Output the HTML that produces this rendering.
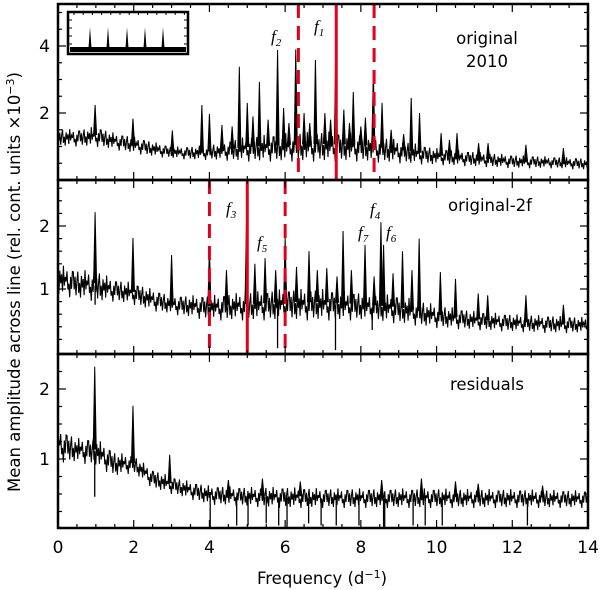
<!DOCTYPE html>
<html><head><meta charset="utf-8">
<style>
html,body{margin:0;padding:0;background:#fff;}
svg{display:block;font-family:"DejaVu Sans","Liberation Sans",sans-serif;}
.it{font-family:"Liberation Serif","DejaVu Serif",serif;font-style:italic;}
</style></head>
<body>
<svg id="chart" width="600" height="590" viewBox="0 0 600 590" xmlns="http://www.w3.org/2000/svg">
<defs>
<clipPath id="c0"><rect x="58" y="4" width="530" height="176"/></clipPath>
<clipPath id="c1"><rect x="58" y="180" width="530" height="174"/></clipPath>
<clipPath id="c2"><rect x="58" y="354" width="530" height="174"/></clipPath>
</defs>
<g id="marks"></g>
<g id="axes"></g>
<text transform="translate(20,282) rotate(-90)" text-anchor="middle" font-size="16.5">Mean amplitude across line (rel. cont. units ×10<tspan font-size="11" dy="-6">−3</tspan><tspan dy="6">)</tspan></text>
<text x="322" y="584" text-anchor="middle" font-size="16.5">Frequency (d<tspan font-size="11" dy="-6">−1</tspan><tspan dy="6">)</tspan></text>
<text x="487" y="44" text-anchor="middle" font-size="16.5">original</text>
<text x="487" y="67" text-anchor="middle" font-size="16.5">2010</text>
<text x="490" y="211" text-anchor="middle" font-size="16.5">original-2f</text>
<text x="487" y="390" text-anchor="middle" font-size="16.5">residuals</text>
<text class="it" x="271" y="42" font-size="17">f<tspan font-size="11" dy="4">2</tspan></text>
<text class="it" x="314" y="32" font-size="17">f<tspan font-size="11" dy="4">1</tspan></text>
<text class="it" x="226" y="214" font-size="17">f<tspan font-size="11" dy="4">3</tspan></text>
<text class="it" x="257" y="248" font-size="17">f<tspan font-size="11" dy="4">5</tspan></text>
<text class="it" x="370" y="215" font-size="17">f<tspan font-size="11" dy="4">4</tspan></text>
<text class="it" x="358" y="238" font-size="17">f<tspan font-size="11" dy="4">7</tspan></text>
<text class="it" x="386" y="238" font-size="17">f<tspan font-size="11" dy="4">6</tspan></text>
</svg>
<script>
// ---- data ----
const envFreq = [0,0.5,1,1.5,2,2.5,3,3.5,4,5,6,7,8,9,10,11,12,13,14];
const topHi = [1.55,1.5,1.6,1.4,1.3,1.15,1.0,1.0,1.05,1.3,1.4,1.45,1.4,1.2,0.95,0.85,0.75,0.7,0.65];
const topLo = [1.0,1.0,1.0,0.9,0.8,0.7,0.65,0.6,0.6,0.55,0.55,0.55,0.55,0.5,0.45,0.4,0.35,0.35,0.3];
const midHi = [1.4,1.3,1.3,1.15,1.1,1.0,0.9,0.9,0.9,0.95,1.0,1.0,0.95,0.9,0.75,0.65,0.6,0.58,0.55];
const midLo = [0.9,0.85,0.8,0.8,0.75,0.65,0.6,0.55,0.5,0.5,0.5,0.5,0.5,0.45,0.38,0.35,0.32,0.3,0.3];
const resHi = [1.45,1.3,1.3,1.1,1.05,0.85,0.75,0.68,0.62,0.6,0.6,0.58,0.58,0.58,0.58,0.57,0.57,0.56,0.55];
const resLo = [0.95,0.95,0.9,0.75,0.8,0.58,0.5,0.42,0.35,0.32,0.3,0.3,0.3,0.3,0.3,0.3,0.3,0.3,0.3];

const topPeakFreq = [0.98,1.98,3.02,3.8,4.0,4.33,4.6,4.79,5.0,5.15,5.32,5.55,5.8,5.96,6.1,6.28,6.5,6.65,6.8,7.05,7.2,7.34,7.55,7.7,7.8,8.0,8.12,8.33,8.56,8.8,9.13,9.33,9.55,10.12,10.34,10.54,11.11,11.36,12.36,13.35];
const topPeakAmp  = [2.24,1.83,1.48,2.24,1.97,1.64,1.6,3.38,2.3,1.9,2.93,1.8,3.88,2.15,1.7,3.9,2.0,1.7,3.58,2.0,1.8,4.18,2.1,1.7,2.63,1.6,1.86,3.28,2.3,1.5,1.37,2.45,2.0,1.4,1.2,1.4,1.1,1.1,1.05,0.95];

const midPeakFreq = [0.98,1.98,3.0,4.0,4.45,4.98,5.2,5.47,5.75,6.0,6.3,6.63,6.85,7.1,7.37,7.53,7.75,8.11,8.35,8.53,8.6,8.85,9.1,9.35,9.54,10.1,10.5,11.1,11.35,12.36,13.35];
const midPeakAmp  = [2.22,1.81,1.54,1.67,1.3,2.13,1.4,1.49,1.3,1.81,1.35,1.6,1.3,1.33,1.2,1.92,1.3,1.7,1.2,2.06,1.7,1.25,1.6,1.3,1.8,1.27,1.16,0.93,0.9,0.9,0.75];
const midDipFreq = [0.98,5.8,7.33,8.3];
const midDipAmp  = [0.75,0.06,0.03,0.35];

const resPeakFreq = [0.97,1.98,2.95,4.5,5.4,6.4,8.55,9.6,10.5,11.1,12.8];
const resPeakAmp  = [2.32,1.76,1.06,0.7,0.72,0.68,0.7,0.72,0.68,0.65,0.62];
const resDipFreq = [0.97,4.02,4.72,5.02,5.5,5.83,6.05,6.62,6.95,7.35,7.95,8.6,8.63,9.38,9.7,10.15,12.4];
const resDipAmp  = [0.46,0.03,0.05,0.05,0.08,0.05,0.03,0.08,0.05,0.05,0.05,0.03,0.03,0.05,0.05,0.05,0.05];

const topSolid = [7.35], topDashed = [6.35,8.35];
const midSolid = [5.0], midDashed = [4.0,6.0];
const xTicksMajor = [0,2,4,6,8,10,12,14];

// ---- scales ----
const X0=58, X1=588, FMAX=14;
const xs = f => X0 + f*(X1-X0)/FMAX;
const panels = [
  {name:'original', top:4, bot:180, y:v=>113-(v-2)*33.5, vmax:5.2, minor:0.5, major:[2,4], hi:topHi, lo:topLo, pf:topPeakFreq, pa:topPeakAmp, df:[], da:[], solid:topSolid, dashed:topDashed, clip:'c0'},
  {name:'original-2f', top:180, bot:354, y:v=>289-(v-1)*63, vmax:2.7, minor:0.2, major:[1,2], hi:midHi, lo:midLo, pf:midPeakFreq, pa:midPeakAmp, df:midDipFreq, da:midDipAmp, solid:midSolid, dashed:midDashed, clip:'c1'},
  {name:'residuals', top:354, bot:528, y:v=>459-(v-1)*70, vmax:2.45, minor:0.25, major:[1,2], hi:resHi, lo:resLo, pf:resPeakFreq, pa:resPeakAmp, df:resDipFreq, da:resDipAmp, solid:[], dashed:[], clip:'c2'}
];
// drawing texture (fraction of band), style only
const texture = [0.9,0.3,0.75,0.1,0.6,0.95,0.2,0.55,0.05,0.8,0.4,0.7,0.15,1.0,0.35,0.65,0.5,0.85,0.25,0.45,0.0,0.7,0.3,0.9];
const NS='http://www.w3.org/2000/svg';
function mk(tag, attrs, parent){const e=document.createElementNS(NS,tag);for(const k in attrs)e.setAttribute(k,attrs[k]);parent.appendChild(e);return e;}
function interp(arr,f){for(let i=0;i<envFreq.length-1;i++){if(f<=envFreq[i+1]){const t=(f-envFreq[i])/(envFreq[i+1]-envFreq[i]);return arr[i]+t*(arr[i+1]-arr[i]);}}return arr[arr.length-1];}
const marks=document.getElementById('marks'), axes=document.getElementById('axes');

panels.forEach((p,pi)=>{
  const g=mk('g',{'clip-path':'url(#'+p.clip+')'},marks);
  
  
  let pts=[]; let k=pi*7;
  for(let x=X0; x<=X1; x+=0.9){
    const f=(x-X0)*FMAX/(X1-X0);
    const hi=interp(p.hi,f), lo=interp(p.lo,f);
    const t=texture[k%texture.length]; k++;
    pts.push(x.toFixed(1)+','+p.y(lo+t*(hi-lo)).toFixed(1));
  }
  const env=mk('polyline',{points:pts.join(' '),fill:'none',stroke:'#000','stroke-width':'1.1'},g);
  
  
  p.pf.forEach((f,i)=>{
    const b=interp(p.hi,f)*0.6+interp(p.lo,f)*0.4, w=0.04;
    const tri=mk('polygon',{points:xs(f-w)+','+p.y(b)+' '+xs(f)+','+p.y(p.pa[i])+' '+xs(f+w)+','+p.y(b),fill:'#000',stroke:'#000','stroke-width':'1'},g);
    
    
  });
  p.df.forEach((f,i)=>{
    const b=(interp(p.lo,f)+interp(p.hi,f))/2;
    const ln=mk('line',{x1:xs(f),x2:xs(f),y1:p.y(b),y2:p.y(p.da[i]),stroke:'#000','stroke-width':'1.3'},g);
    
    
  });
  p.solid.forEach(f=>{
    const l=mk('line',{x1:xs(f),x2:xs(f),y1:p.top,y2:p.bot,stroke:'#e3001b','stroke-width':'3'},marks);
    
    
  });
  p.dashed.forEach(f=>{
    const l=mk('line',{x1:xs(f),x2:xs(f),y1:p.top,y2:p.bot,stroke:'#e3001b','stroke-width':'3','stroke-dasharray':'14,8'},marks);
    
    
  });
  const fr=mk('rect',{x:X0,y:p.top,width:X1-X0,height:p.bot-p.top,fill:'none',stroke:'#000','stroke-width':'2.5'},axes);
  
  
  for(let f=0;f<=FMAX+1e-6;f+=0.5){
    const maj=Math.abs(f/2-Math.round(f/2))<1e-6, L=maj?8:4;
    mk('line',{x1:xs(f),x2:xs(f),y1:p.bot,y2:p.bot-L,stroke:'#000','stroke-width':'1.2'},axes);
    mk('line',{x1:xs(f),x2:xs(f),y1:p.top,y2:p.top+L,stroke:'#000','stroke-width':'1.2'},axes);
  }
  for(let v=p.minor;v<=p.vmax+1e-6;v+=p.minor){
    const yy=p.y(v); if(yy<p.top+2||yy>p.bot-2)continue;
    const maj=p.major.some(m=>Math.abs(m-v)<1e-6), L=maj?8:4;
    mk('line',{x1:X0,x2:X0+L,y1:yy,y2:yy,stroke:'#000','stroke-width':'1.2'},axes);
    mk('line',{x1:X1,x2:X1-L,y1:yy,y2:yy,stroke:'#000','stroke-width':'1.2'},axes);
  }
  p.major.forEach(m=>{
    const t=mk('text',{x:X0-8,y:p.y(m)+6,'text-anchor':'end','font-size':'17'},axes);
    t.textContent=m;
    
    
  });
});
xTicksMajor.forEach(f=>{
  const t=mk('text',{x:xs(f),y:553,'text-anchor':'middle','font-size':'17'},axes);
  t.textContent=f;
  
  
});
const inset=mk('g',{},axes);


mk('rect',{x:68,y:12,width:120,height:42,fill:'#fff',stroke:'#000','stroke-width':'2.5'},inset);
mk('rect',{x:70,y:47,width:116,height:5,fill:'#000'},inset);
const insetPeaks=[90,108,127,145,163];
insetPeaks.forEach(x=>{mk('polygon',{points:(x-1.5)+',48 '+x+',27 '+(x+1.5)+',48',fill:'#000'},inset);});
for(let x=74;x<188;x+=9.2){mk('line',{x1:x,x2:x,y1:12,y2:15,stroke:'#000','stroke-width':'1'},inset);}
[20,28,36,44].forEach(y=>{mk('line',{x1:68,x2:72,y1:y,y2:y,stroke:'#000','stroke-width':'1'},inset);mk('line',{x1:184,x2:188,y1:y,y2:y,stroke:'#000','stroke-width':'1'},inset);});
</script>
</body></html>
